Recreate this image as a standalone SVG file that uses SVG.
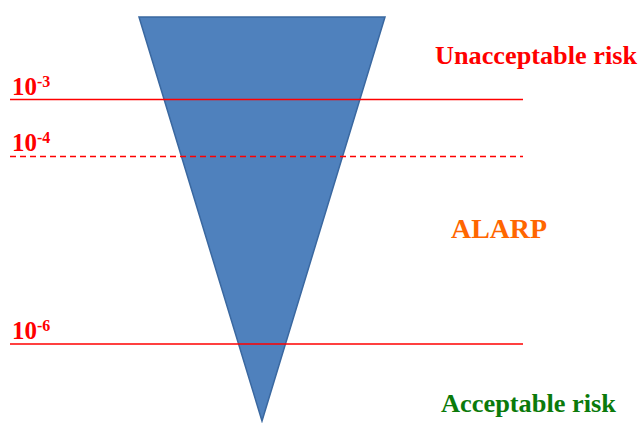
<svg xmlns="http://www.w3.org/2000/svg" width="641" height="423" viewBox="0 0 641 423">
<style>
.lbl{font-family:"Liberation Serif","Times New Roman",serif;font-weight:bold}
.num{font-size:25px;fill:#FF0000}
.sup{font-size:16px}
.ln{stroke:#FF0000;stroke-width:1.3;fill:none}
</style>
<rect width="641" height="423" fill="#ffffff"/>
<g id="triangle">
<polygon points="139,17 385,17 262,421" fill="#4F81BD" stroke="#3A68A0" stroke-width="1.5" stroke-linejoin="miter"/>
</g>
<g id="connectors">
<line class="ln" x1="10" y1="99.5" x2="523" y2="99.5"/>
<line class="ln" x1="10" y1="156.5" x2="523" y2="156.5" stroke-dasharray="6,4"/>
<line class="ln" x1="10" y1="344" x2="523" y2="344"/>
</g>
<g id="label-1e-3"><text class="lbl num" x="12" y="95">10<tspan class="sup" dy="-8">-3</tspan></text></g>
<g id="label-1e-4"><text class="lbl num" x="12" y="151">10<tspan class="sup" dy="-8">-4</tspan></text></g>
<g id="label-1e-6"><text class="lbl num" x="12" y="339">10<tspan class="sup" dy="-8">-6</tspan></text></g>
<g id="unacceptable"><text class="lbl" x="435" y="64" font-size="26" fill="#FF0000" textLength="202" lengthAdjust="spacingAndGlyphs">Unacceptable risk</text></g>
<g id="alarp"><text class="lbl" x="451" y="238" font-size="27" fill="#FF6600" textLength="96" lengthAdjust="spacingAndGlyphs">ALARP</text></g>
<g id="acceptable"><text class="lbl" x="441" y="412" font-size="26" fill="#0B7A0B" textLength="175" lengthAdjust="spacingAndGlyphs">Acceptable risk</text></g>
</svg>
